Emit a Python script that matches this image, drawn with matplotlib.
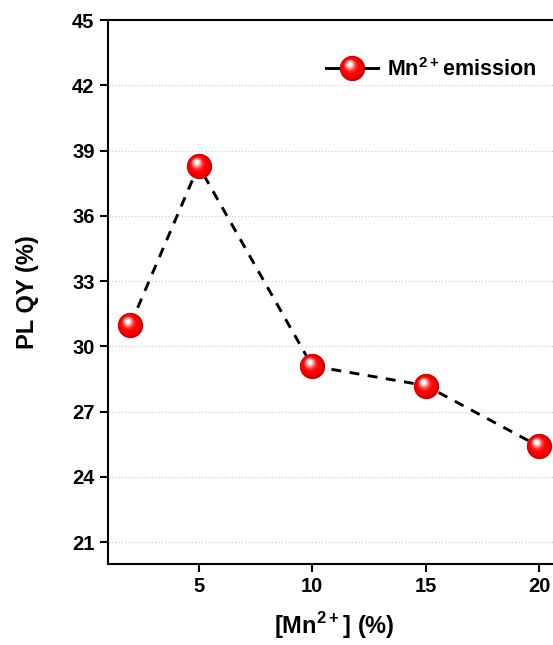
import numpy as np
import matplotlib
matplotlib.use("Agg")
import matplotlib.pyplot as plt
from matplotlib.path import Path
from matplotlib.markers import MarkerStyle
from matplotlib.lines import Line2D
from matplotlib.legend_handler import HandlerTuple

plt.rcParams['font.family'] = ['Liberation Sans', 'DejaVu Sans']
plt.rcParams['font.weight'] = 'bold'
plt.rcParams['mathtext.fontset'] = 'custom'
plt.rcParams['mathtext.rm'] = 'Liberation Sans:bold'
plt.rcParams['mathtext.bf'] = 'Liberation Sans:bold'

# Mn2+ doping level vs photoluminescence quantum yield
mn_conc = [2, 5, 10, 15, 20]
plqy = [31.0, 38.3, 29.1, 28.2, 25.4]
xticks = [5, 10, 15, 20]
yticks = [21, 24, 27, 30, 33, 36, 39, 42, 45]
series_label = r'Mn$^{\mathbf{2+}}$emission'

BALL = 18.2  # marker diameter in points

# shaded sphere: stacked off-centre discs (cx, cy, r in ball radii, colour)
ball_layers = [
    (0.00, 0.00, 1.00, '#c80000'),
    (-0.04, 0.05, 0.92, '#e80000'),
    (-0.08, 0.10, 0.78, '#ff0000'),
    (-0.14, 0.20, 0.56, '#ff2020'),
    (-0.18, 0.26, 0.43, '#ff6060'),
    (-0.20, 0.30, 0.33, '#ffa0a0'),
    (-0.21, 0.32, 0.24, '#ffdede'),
    (-0.21, 0.33, 0.16, '#ffffff'),
]


def disc_marker(cx, cy, r):
    t = np.linspace(0, 2 * np.pi, 80)
    verts = np.column_stack([cx + r * np.cos(t), cy + r * np.sin(t)])
    # matplotlib rescales custom paths so max |vertex| maps to half the size
    m = max(abs(cx) + r, abs(cy) + r)
    return MarkerStyle(Path(verts, closed=True)), BALL * m


def ball_artists(ax=None, x=None, y=None, z0=3):
    arts = []
    for i, (cx, cy, r, col) in enumerate(ball_layers):
        mk, ms = disc_marker(cx, cy, r)
        kw = dict(ls='none', marker=mk, ms=ms, mfc=col, mec='none', mew=0)
        if ax is None:
            arts.append(Line2D([], [], **kw))
        else:
            arts += ax.plot(x, y, zorder=z0 + i, **kw)
    return arts


fig = plt.figure(figsize=(5.53, 6.45), dpi=100)
ax = fig.add_axes([107.7 / 553, 1 - 564 / 645, (562 - 107.7) / 553, (564 - 20) / 645])

ax.plot(mn_conc, plqy, color='black', lw=2.1, ls=(0, (3.4, 2.9)), zorder=2)
ball_artists(ax, mn_conc, plqy)

ax.set_xlim(1, 21)
ax.set_ylim(20, 45)
ax.set_xticks(xticks)
ax.set_yticks(yticks)
ax.yaxis.grid(True, ls=(0, (1, 2)), color='#c8c8c8', lw=0.8)
ax.set_axisbelow(True)

for sp in ax.spines.values():
    sp.set_linewidth(1.5)
ax.tick_params(direction='out', length=6, width=1.5, labelsize=14.5, pad=3.5)
for lab in ax.get_xticklabels() + ax.get_yticklabels():
    lab.set_fontweight('bold')

ax.set_ylabel('PL QY (%)', fontsize=17, fontweight='bold', labelpad=24)
ax.set_xlabel(r'[Mn$^{\mathbf{2+}}$] (%)', fontsize=17, fontweight='bold', labelpad=10)

handle = tuple([Line2D([], [], color='black', lw=2.1)] + ball_artists())
ax.legend([handle], [series_label], handler_map={tuple: HandlerTuple(ndivide=1, pad=0)},
          loc='center left', bbox_to_anchor=(326 / 553, 1 - 69.3 / 645),
          bbox_transform=fig.transFigure, frameon=False, borderpad=0, borderaxespad=0,
          handlelength=2.4, handletextpad=0.45, prop={'size': 15.5, 'weight': 'bold'})

fig.savefig('out.png', dpi=100)
